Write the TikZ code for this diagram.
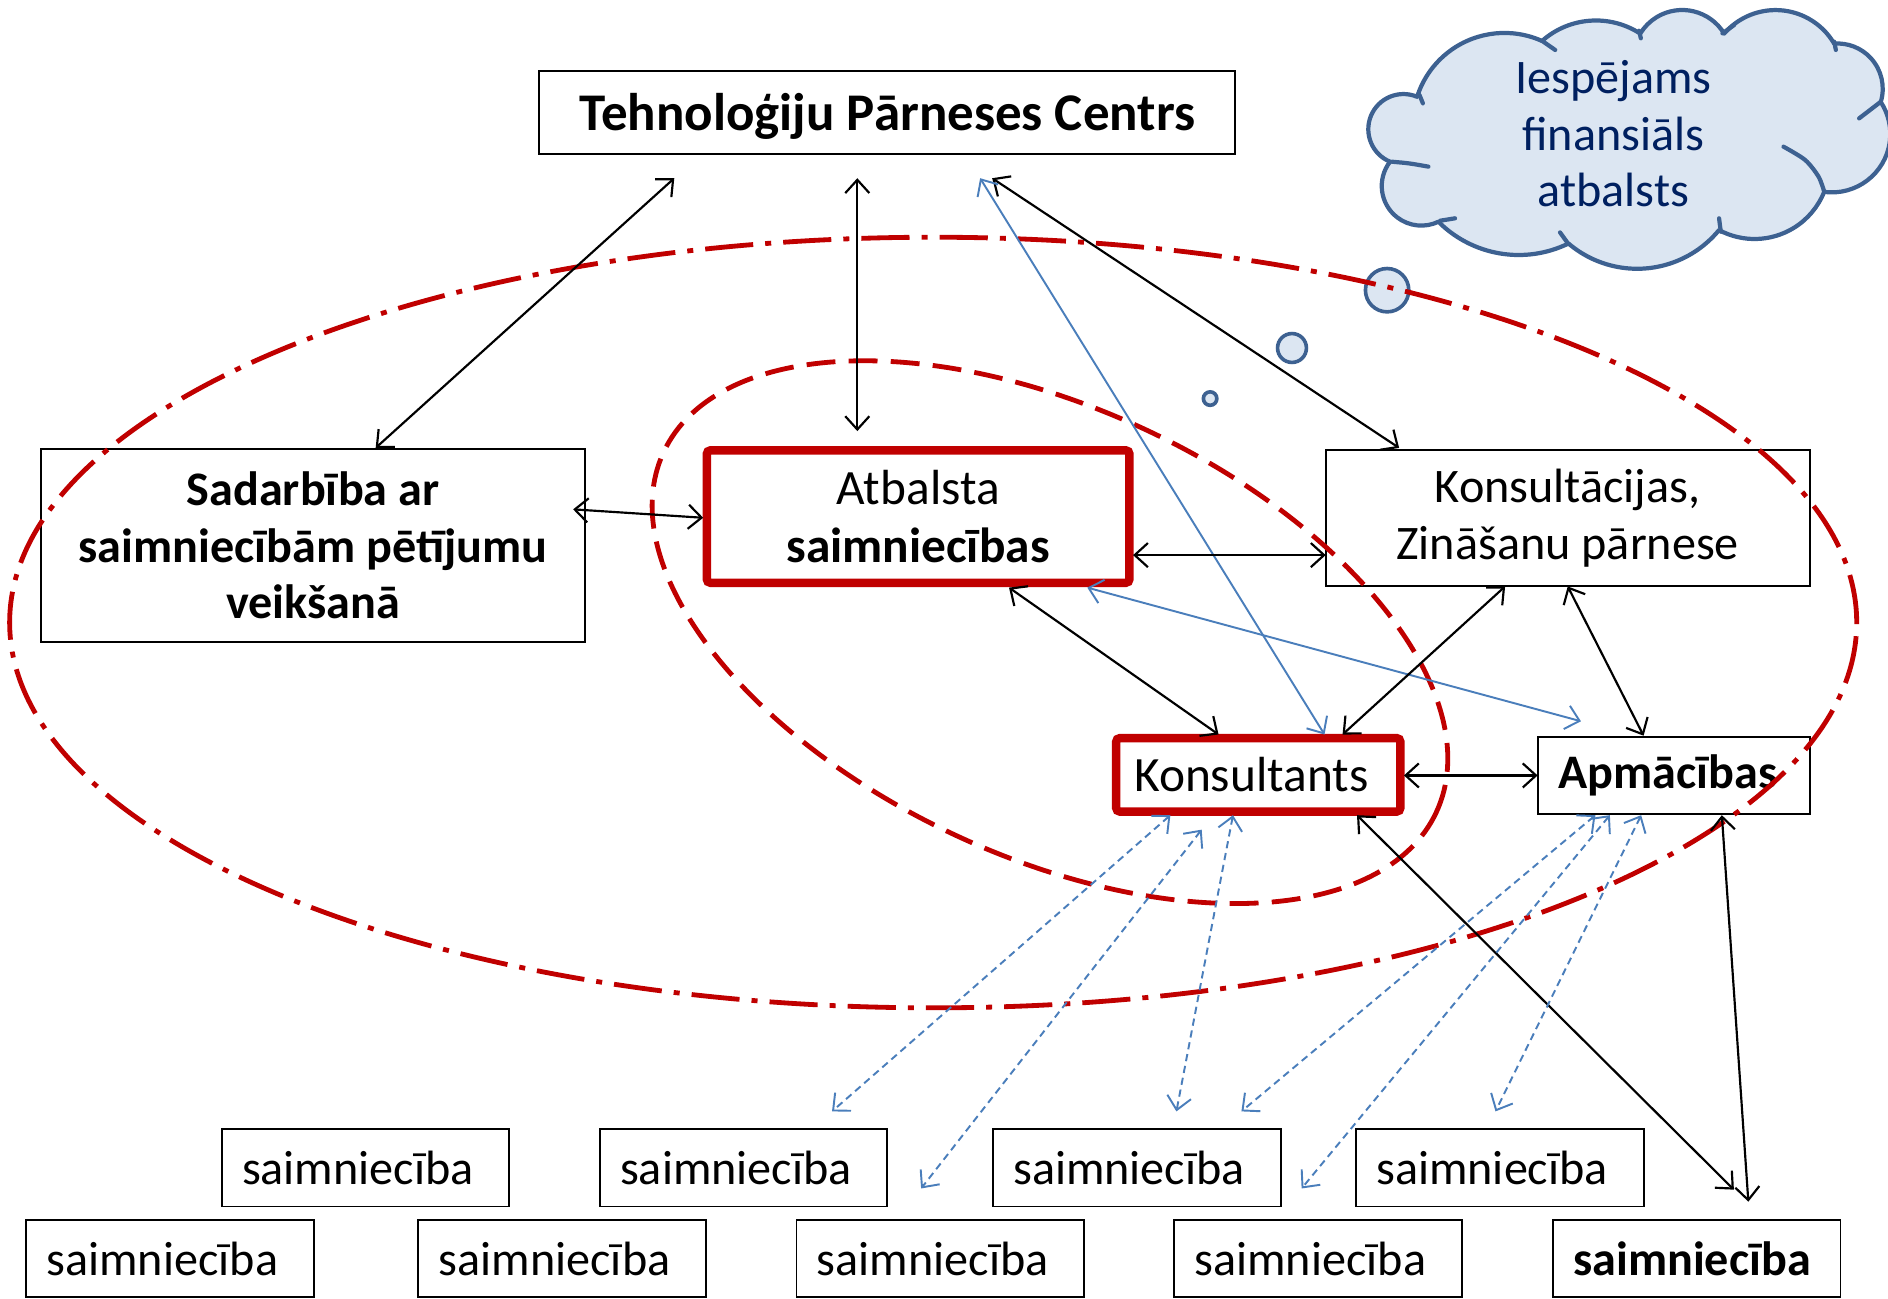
\documentclass[tikz,border=0pt]{standalone}
\usepackage{fontspec}
\setmainfont{Carlito}
\usetikzlibrary{arrows.meta}
\definecolor{myred}{RGB}{192,0,0}
\definecolor{myblue}{RGB}{74,126,187}
\definecolor{cloudfill}{RGB}{220,230,242}
\definecolor{cloudline}{RGB}{61,97,145}
\definecolor{cloudtext}{RGB}{0,32,96}
\tikzset{
  box/.style={draw=black, line width=0.8pt, inner sep=0pt, align=center, font=\fontsize{20}{23.5}\selectfont},
  redbox/.style={draw=myred, line width=3.5pt, rounded corners=1.5pt, inner sep=0pt, align=center, font=\fontsize{20.5}{24}\selectfont},
  sbox/.style={draw=black, line width=0.8pt, minimum height=32pt, inner ysep=0pt, inner xsep=8.5pt, text width=102.5pt, align=left, font=\fontsize{20}{24}\selectfont},
  arr/.style={line width=0.9pt, {Straight Barb[length=5.5pt,width=10pt]}-{Straight Barb[length=5.5pt,width=10pt]}},
  barr/.style={arr, draw=myblue, line width=0.8pt},
  bdarr/.style={barr, dash pattern=on 3pt off 2pt},
  outerell/.style={draw=myred, line width=2pt, dash pattern=on 20pt off 5pt on 2.5pt off 5pt},
  innerell/.style={draw=myred, line width=2pt, dash pattern=on 12pt off 5.5pt},
  cloudshape/.style={draw=cloudline, fill=cloudfill, line width=1.75pt, line join=round},
  tick/.style={draw=cloudline, line width=1.75pt, line cap=round},
  bubble/.style={draw=cloudline, fill=cloudfill, line width=1.5pt}
}
\begin{document}
\begin{tikzpicture}[x=0.5pt,y=-0.5pt]
\useasboundingbox (0,0) rectangle (1568,1078);

% cloud
\path[cloudshape] (1176.7,80.3)
  arc[start angle=-67.6, end angle=-247.6, radius=29.2]
  arc[start angle=-142.2, end angle=-295.5, radius=32.9]
  arc[start angle=135, end angle=64, radius=94.3]
  arc[start angle=130.4, end angle=39.4, radius=88]
  arc[start angle=118.25, end angle=21.8, radius=62.3]
  arc[start angle=97.6, end angle=-33.2, radius=48.5]
  arc[start angle=17, end angle=-94.2, radius=37.6]
  arc[start angle=-30.4, end angle=-139.2, radius=56.4]
  arc[start angle=-31.3, end angle=-148.7, radius=40.8]
  arc[start angle=-57, end angle=-131.6, radius=67.5]
  arc[start angle=-65.8, end angle=-162.5, radius=76.1] -- cycle;
\draw[tick] (1178.9,78.9) -- (1181.7,85.8);
\draw[tick] (1155.9,134.3) .. controls (1170,135.5) .. (1186.3,138.4);
\draw[tick] (1196,183.3) -- (1208.4,181.3);
\draw[tick] (1295.6,193) -- (1302.6,202.7);
\draw[tick] (1280.5,33.8) -- (1291.6,41.5);
\draw[tick] (1361.3,25.5) -- (1362.7,31.8);
\draw[tick] (1430.5,27.7) -- (1440.2,20.8);
\draw[tick] (1523.3,34.6) -- (1524.7,41.5);
\draw[tick] (1562,84.5) -- (1544,98.3);
\draw[tick] plot[smooth] coordinates {(1481.2,121.8) (1499.2,132.9) (1510.3,146.7) (1515,159.2)};
\draw[tick] (1427.7,181.3) -- (1429.1,192.4);
\node[font=\fontsize{20}{23.5}\selectfont, text=cloudtext, align=center, inner sep=0pt] (cloudtxt) at (1340,111) {Iespējams\\finansiāls\\atbalsts};
\draw[bubble] (1152,241) circle [radius=9pt];
\draw[bubble] (1073,289) circle [radius=6pt];
\draw[bubble] (1005,331) circle [radius=2.8pt];

% boxes
\node[box, minimum width=289pt, minimum height=34.5pt, text height=16pt, text depth=1.5pt, font=\fontsize{22}{26}\selectfont\bfseries] (tpc) at (737,93.5) {Tehnoloģiju Pārneses Centrs};
\node[box, minimum width=226pt, minimum height=80pt, font=\fontsize{20}{23.5}\selectfont\bfseries] (sad) at (260,453) {Sadarbība ar\\saimniecībām pētījumu\\veikšanā};
\node[redbox, minimum width=175.5pt, minimum height=55pt] (atb) at (762.5,429) {Atbalsta\\\textbf{saimniecības}};
\node[box, minimum width=201pt, minimum height=56.5pt] (kon) at (1302,430.5) {Konsultācijas,\\Zināšanu pārnese};
\node[redbox, minimum width=118pt, minimum height=30.5pt, inner xsep=7.5pt, text width=103pt, align=left] (kst) at (1045,643.5) {Konsultants};
\node[box, minimum width=113pt, minimum height=32pt, inner xsep=8.5pt, text width=96pt, align=left, font=\fontsize{20}{24}\selectfont\bfseries] (apm) at (1390,644) {Apmācības};

\node[sbox] (s1) at (303.5,970) {saimniecība};
\node[sbox] (s2) at (617.5,970) {saimniecība};
\node[sbox] (s3) at (944,970) {saimniecība};
\node[sbox] (s4) at (1245.5,970) {saimniecība};
\node[sbox] (s5) at (141,1045.5) {saimniecība};
\node[sbox] (s6) at (467,1045.5) {saimniecība};
\node[sbox] (s7) at (781,1045.5) {saimniecība};
\node[sbox] (s8) at (1094.5,1045.5) {saimniecība};
\node[sbox, font=\fontsize{20}{24}\selectfont\bfseries] (s9) at (1409,1045.5) {saimniecība};

% ellipses
\draw[outerell] (775,517) ellipse [x radius=383.5pt, y radius=160pt];
\draw[innerell, rotate around={-25:(872,525)}] (872,525) ellipse [x radius=177pt, y radius=93pt];

% connector end points
\coordinate (t1) at (560,148);
\coordinate (t2) at (712,148);
\coordinate (t3) at (824,148);
\coordinate (t4) at (814,148);
\coordinate (sadtop) at (312,372);
\coordinate (sadright) at (476,423);
\coordinate (atbtop) at (712,358);
\coordinate (atbleft) at (584,430);
\coordinate (atbright) at (941,461);
\coordinate (atbb1) at (838,488);
\coordinate (atbb2) at (903,488);
\coordinate (kontop) at (1162,372);
\coordinate (konleft) at (1101,461);
\coordinate (konb1) at (1250,487);
\coordinate (konb2) at (1302,487);
\coordinate (ksttop1) at (1012,610);
\coordinate (ksttop2) at (1100,610);
\coordinate (ksttop3) at (1115,610);
\coordinate (kstright) at (1166,644);
\coordinate (kstb0) at (1127,677);
\coordinate (kstb1) at (972,677);
\coordinate (kstb2) at (998,689);
\coordinate (kstb3) at (1024,677);
\coordinate (apmtl) at (1313,599);
\coordinate (apmtop) at (1365,611);
\coordinate (apmleft) at (1277,644);
\coordinate (apmb1) at (1325,677);
\coordinate (apmb2) at (1337,677);
\coordinate (apmb3) at (1363,677);
\coordinate (apmb4) at (1430,677);
\coordinate (e1) at (691,923);
\coordinate (e2) at (765,987);
\coordinate (e3) at (977,923);
\coordinate (e4) at (1031,923);
\coordinate (e5) at (1081,987);
\coordinate (e6) at (1242,923);
\coordinate (e7) at (1440,988);
\coordinate (e8) at (1452,998);

% connectors
\draw[arr] (t1) -- (sadtop);
\draw[arr] (t2) -- (atbtop);
\draw[arr] (t3) -- (kontop);
\draw[barr] (t4) -- (ksttop2);
\draw[arr] (sadright) -- (atbleft);
\draw[arr] (atbright) -- (konleft);
\draw[arr] (atbb1) -- (ksttop1);
\draw[barr] (atbb2) -- (apmtl);
\draw[arr] (konb1) -- (ksttop3);
\draw[arr] (konb2) -- (apmtop);
\draw[arr] (kstright) -- (apmleft);
\draw[arr] (kstb0) -- (e7);
\draw[arr] (apmb4) -- (e8);
\draw[bdarr] (kstb1) -- (e1);
\draw[bdarr] (kstb2) -- (e2);
\draw[bdarr] (kstb3) -- (e3);
\draw[bdarr] (apmb1) -- (e4);
\draw[bdarr] (apmb2) -- (e5);
\draw[bdarr] (apmb3) -- (e6);
\end{tikzpicture}
\end{document}
